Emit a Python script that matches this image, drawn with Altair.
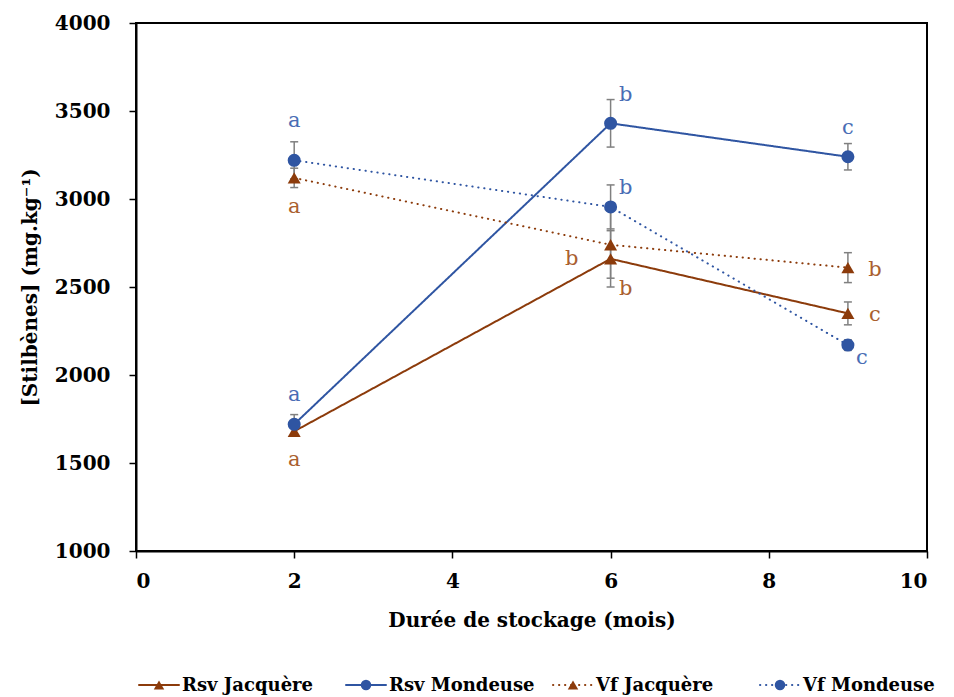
import altair as alt
import pandas as pd

# ---- data ----
months = [2, 6, 9]
series = ["Rsv Jacquère", "Rsv Mondeuse", "Vf Jacquère", "Vf Mondeuse"]

rsv_jacquere = [1680, 2660, 2350]
rsv_mondeuse = [1720, 3430, 3240]
vf_jacquere = [3120, 2740, 2610]
vf_mondeuse = [3220, 2955, 2170]

rsv_jacquere_sd = [25, 160, 65]
rsv_mondeuse_sd = [55, 135, 75]
vf_jacquere_sd = [55, 190, 85]
vf_mondeuse_sd = [105, 125, 30]

rsv_jacquere_letters = ["a", "b", "c"]
rsv_mondeuse_letters = ["a", "b", "c"]
vf_jacquere_letters = ["a", "b", "b"]
vf_mondeuse_letters = ["a", "b", "c"]

# where each letter sits relative to its point
rsv_jacquere_place = ["below", "below_right", "right"]
rsv_mondeuse_place = ["above", "above_right_high", "above"]
vf_jacquere_place = ["below", "left", "right"]
vf_mondeuse_place = ["above_far", "above_right", "right_below"]

x_ticks = [0, 2, 4, 6, 8, 10]
y_ticks = [1000, 1500, 2000, 2500, 3000, 3500, 4000]

# ---- styles ----
marker_colors = ["#8C3B0B", "#2F55A2", "#8C3B0B", "#2F55A2"]
label_colors = ["#AA5F30", "#4A6DB5", "#AA5F30", "#4A6DB5"]
dashes = [[1, 0], [1, 0], [0.3, 5.7], [0.3, 5.7]]
widths = [2, 2, 3.4, 3.4]
shapes = ["triangle-up", "circle", "triangle-up", "circle"]
offsets = {
    "above": (0, -29),
    "above_far": (0, -39),
    "below": (0, 29),
    "above_right_high": (15, -28),
    "above_right": (15, -19),
    "below_right": (15, 30),
    "right": (27, 2),
    "right_below": (14, 13),
    "left": (-39, 14),
}
FONT = "DejaVu Serif"

rows = []
for name, vals, sds, lets, places in [
    (series[0], rsv_jacquere, rsv_jacquere_sd, rsv_jacquere_letters, rsv_jacquere_place),
    (series[1], rsv_mondeuse, rsv_mondeuse_sd, rsv_mondeuse_letters, rsv_mondeuse_place),
    (series[2], vf_jacquere, vf_jacquere_sd, vf_jacquere_letters, vf_jacquere_place),
    (series[3], vf_mondeuse, vf_mondeuse_sd, vf_mondeuse_letters, vf_mondeuse_place),
]:
    for m, v, s, l, p in zip(months, vals, sds, lets, places):
        rows.append(dict(series=name, month=m, value=v, lo=v - s, hi=v + s,
                         letter=l, place=p))
df = pd.DataFrame(rows)
legend_df = pd.DataFrame({"series": series, "slot": list(range(len(series)))})

x_enc = alt.X("month:Q", scale=alt.Scale(domain=[0, 10], nice=False),
              axis=alt.Axis(values=x_ticks, format="d", title="Durée de stockage (mois)"))
y_enc = alt.Y("value:Q", scale=alt.Scale(domain=[1000, 4000], nice=False),
              axis=alt.Axis(values=y_ticks, format="d",
                            title="[Stilbènes] (mg.kg⁻¹)"))

stroke_enc = alt.Stroke("series:N", scale=alt.Scale(domain=series, range=marker_colors), legend=None)
fill_enc = alt.Fill("series:N", scale=alt.Scale(domain=series, range=marker_colors), legend=None)
dash_enc = alt.StrokeDash("series:N", scale=alt.Scale(domain=series, range=dashes), legend=None)
width_enc = alt.StrokeWidth("series:N", scale=alt.Scale(domain=series, range=widths), legend=None)
shape_enc = alt.Shape("series:N", scale=alt.Scale(domain=series, range=shapes), legend=None)
text_color_enc = alt.Color("series:N", scale=alt.Scale(domain=series, range=label_colors), legend=None)

base = alt.Chart(df)

lines = base.mark_line(strokeCap="round").encode(
    x=x_enc, y=y_enc, stroke=stroke_enc, strokeDash=dash_enc, strokeWidth=width_enc,
    detail="series:N")

err_rule = base.mark_rule(color="#808080", strokeWidth=1.5).encode(
    x="month:Q", y="lo:Q", y2="hi:Q")
err_cap_lo = base.mark_rule(color="#808080", strokeWidth=1.5, xOffset=-4, x2Offset=4).encode(
    x="month:Q", x2="month:Q", y="lo:Q")
err_cap_hi = base.mark_rule(color="#808080", strokeWidth=1.5, xOffset=-4, x2Offset=4).encode(
    x="month:Q", x2="month:Q", y="hi:Q")

points = base.mark_point(filled=True, size=170, opacity=1).encode(
    x="month:Q", y="value:Q", fill=fill_enc, shape=shape_enc)

text_layers = []
for p, (dx, dy) in offsets.items():
    text_layers.append(
        base.transform_filter(alt.datum.place == p).mark_text(
            dx=dx, dy=dy, font=FONT, fontSize=21, align="center", baseline="middle"
        ).encode(x="month:Q", y="value:Q", text="letter:N", color=text_color_enc)
    )

main = alt.layer(lines, err_rule, err_cap_lo, err_cap_hi, points, *text_layers)

# ---- legend row under the plot ----
leg_x = alt.X("slot:Q", scale=alt.Scale(domain=[0, 3], range=[23, 644], nice=False, zero=False),
              axis=None)
leg_base = alt.Chart(legend_df)
LEG_Y = 662
leg_line_l = leg_base.mark_rule(strokeCap="round", xOffset=-20, x2Offset=0).encode(
    x=leg_x, x2="slot:Q", y=alt.value(LEG_Y), stroke=stroke_enc, strokeDash=dash_enc,
    strokeWidth=width_enc)
leg_line_r = leg_base.mark_rule(strokeCap="round", xOffset=0, x2Offset=20).encode(
    x=leg_x, x2="slot:Q", y=alt.value(LEG_Y), stroke=stroke_enc, strokeDash=dash_enc,
    strokeWidth=width_enc)
leg_pt = leg_base.mark_point(filled=True, size=110, opacity=1).encode(
    x=leg_x, y=alt.value(LEG_Y), fill=fill_enc, shape=shape_enc)
leg_txt = leg_base.mark_text(dx=23, align="left", baseline="middle", font=FONT,
                             fontSize=18, fontWeight="bold", color="black").encode(
    x=leg_x, y=alt.value(LEG_Y + 1), text="series:N")
legend = alt.layer(leg_line_l, leg_line_r, leg_pt, leg_txt)

chart = alt.layer(main, legend).resolve_scale(x="independent").properties(
    width=791, height=528, padding={"left": 12, "top": 5, "right": 2, "bottom": 0}
).configure_view(stroke="black", strokeWidth=2).configure_axis(
    domainColor="black", domainWidth=2, tickColor="black", tickWidth=1.5, tickSize=7,
    grid=False, labelFont=FONT, labelFontSize=20, labelFontWeight="bold",
    labelColor="black", titleFont=FONT, titleFontSize=20, titleFontWeight="bold",
    titleColor="black"
).configure_axisX(labelPadding=13, titlePadding=19).configure_axisY(
    labelPadding=19, titlePadding=14)

chart.save("out.html", embed_options={"renderer": "svg", "actions": False})
